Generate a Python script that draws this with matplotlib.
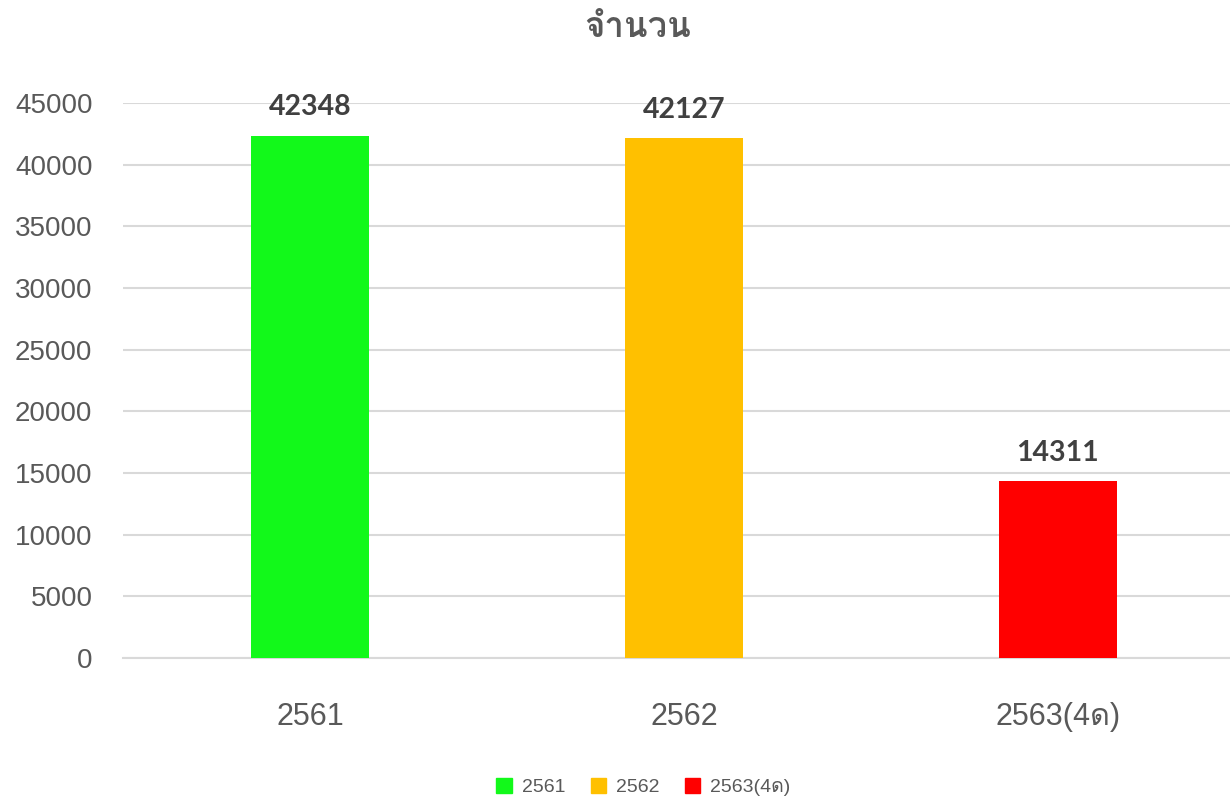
import numpy as np
import matplotlib
matplotlib.use("Agg")
import matplotlib.pyplot as plt
from matplotlib import font_manager
from matplotlib.ft2font import FT2Font
from matplotlib.patches import Patch

categories = ["2561", "2562", "2563(4ด)"]
values = [42348, 42127, 14311]
colors = ["#12F91A", "#FFC000", "#FF0000"]
yticks = [0, 5000, 10000, 15000, 20000, 25000, 30000, 35000, 40000, 45000]
title = "จำนวน"


def thai_fonts():
    found = []
    for f in font_manager.fontManager.ttflist:
        try:
            ft = FT2Font(f.fname)
            cmap = ft.get_charmap()
        except Exception:
            continue
        if ord("จ") in cmap and f.name not in found:
            found.append(f.name)
    return found


thai = thai_fonts()
plain = ["Liberation Sans"] + thai + ["DejaVu Sans"]
bold = ["Lato"] + thai + ["DejaVu Sans"]
plt.rcParams["font.family"] = plain

grey = "#595959"
fig = plt.figure(figsize=(12.3, 8), dpi=100)
ax = fig.add_axes([0.1, 0.1775, 0.912, 0.69375])

x = np.arange(len(categories))
bars = ax.bar(x, values, width=0.316, color=colors, zorder=3)

ax.set_xlim(-0.5, 2.5)
ax.set_ylim(0, 45000)
ax.set_yticks(yticks)
ax.set_yticklabels([str(t) for t in yticks], fontsize=20, color=grey)
ax.set_xticks(x)
ax.set_xticklabels(categories, fontsize=22, color=grey)
ax.tick_params(axis="y", length=0, pad=22)
ax.tick_params(axis="x", length=0, pad=32)
ax.grid(axis="y", color="#D9D9D9", linewidth=1.5, zorder=0)
for s in ["top", "right", "left"]:
    ax.spines[s].set_visible(False)
ax.spines["bottom"].set_color("#D9D9D9")
ax.spines["bottom"].set_linewidth(1.5)

for b, v in zip(bars, values):
    ax.annotate(str(v), (b.get_x() + b.get_width() / 2, v), xytext=(0, 11),
                textcoords="offset points", ha="center", va="bottom",
                fontsize=20.5, fontweight="bold", color="#404040",
                family=bold, clip_on=False)

fig.text(0.518, 0.966, title, ha="center", va="center", fontsize=25,
         fontweight="bold", color=grey)

handles = [Patch(color=c) for c in colors]
fig.legend(handles, categories, loc="center", bbox_to_anchor=(0.523, 0.016),
           ncol=3, frameon=False, fontsize=14, handlelength=0.8, handleheight=0.8,
           columnspacing=1.3, handletextpad=0.5, labelcolor=grey)

fig.savefig("out.png", dpi=100)
